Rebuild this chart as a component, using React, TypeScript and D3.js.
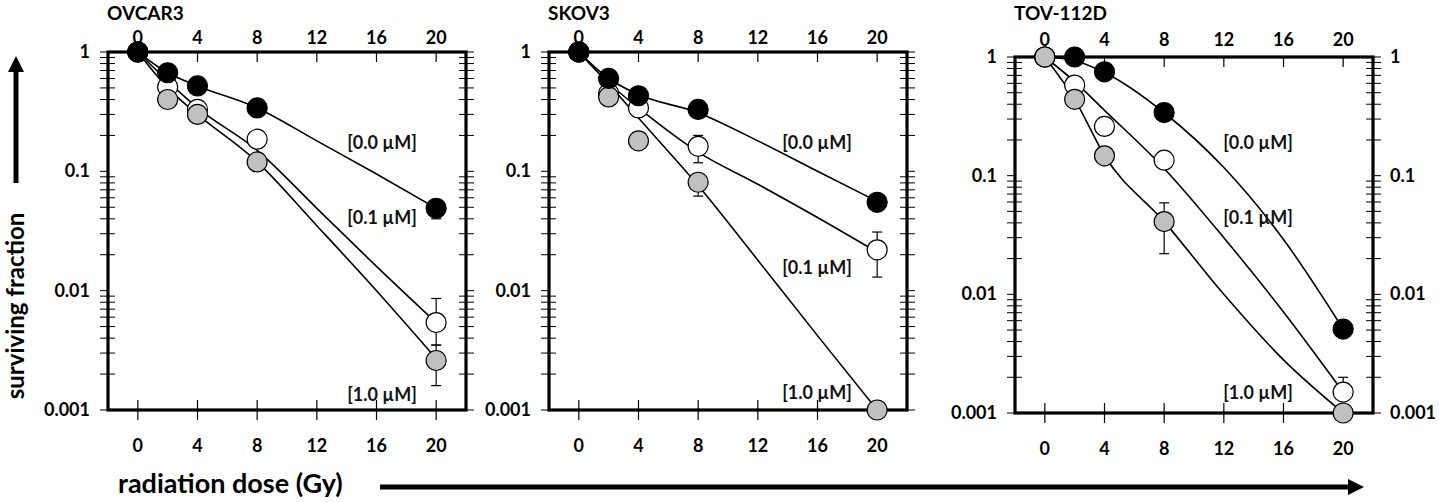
import * as d3 from 'd3';

const doses = [0, 2, 4, 8, 20];
const fitDoses = [0, 2, 4, 8, 12, 16, 20];
const cellLines = ['OVCAR3', 'SKOV3', 'TOV-112D'];
const concLabels = ['[0.0 µM]', '[0.1 µM]', '[1.0 µM]'];
const xTickValues = [0, 4, 8, 12, 16, 20];
const yTickValues = [1, 0.1, 0.01, 0.001];
const yTickLabels = ['1', '0.1', '0.01', '0.001'];

// surviving fraction per concentration (0.0, 0.1, 1.0 µM) at each dose
const ovcar3Points = [
  [1, 0.67, 0.52, 0.34, 0.049],
  [1, 0.51, 0.33, 0.186, 0.0054],
  [1, 0.4, 0.3, 0.12, 0.0026],
];
const skov3Points = [
  [1, 0.6, 0.43, 0.33, 0.055],
  [1, 0.45, 0.34, 0.162, 0.022],
  [1, 0.42, 0.18, 0.081, 0.001],
];
const tovPoints = [
  [1, 1.0, 0.75, 0.34, 0.0051],
  [1, 0.58, 0.26, 0.135, 0.0015],
  [1, 0.44, 0.147, 0.041, 0.001],
];

// fitted curves, read at fitDoses
const ovcar3Fit = [
  [1, 0.67, 0.52, 0.34, 0.18, 0.095, 0.049],
  [1, 0.57, 0.34, 0.15, 0.049, 0.016, 0.0054],
  [1, 0.5, 0.3, 0.12, 0.035, 0.01, 0.0027],
];
const skov3Fit = [
  [1, 0.6, 0.44, 0.31, 0.18, 0.1, 0.056],
  [1, 0.55, 0.34, 0.145, 0.078, 0.041, 0.021],
  [1, 0.54, 0.28, 0.076, 0.018, 0.0042, 0.001],
];
const tovFit = [
  [1, 0.93, 0.74, 0.339, 0.117, 0.029, 0.0051],
  [1, 0.62, 0.355, 0.115, 0.03, 0.0071, 0.0015],
  [1, 0.44, 0.148, 0.041, 0.01, 0.0028, 0.001],
];

// [panel, series, dose index, low, high]
const errorBars: [number, number, number, number, number][] = [
  [0, 0, 4, 0.04, 0.055],
  [0, 1, 4, 0.0035, 0.0086],
  [0, 2, 4, 0.0016, 0.0035],
  [1, 1, 3, 0.118, 0.2],
  [1, 2, 3, 0.062, 0.095],
  [1, 1, 4, 0.013, 0.031],
  [2, 2, 3, 0.022, 0.059],
  [2, 0, 4, 0.0044, 0.0056],
  [2, 1, 4, 0.0013, 0.002],
];

const allPoints = [ovcar3Points, skov3Points, tovPoints];
const allFits = [ovcar3Fit, skov3Fit, tovFit];

const fills = ['#000000', '#ffffff', '#c0c0c0'];
const FONT = 'Lato, "Open Sans", sans-serif';

const layout = [
  { left: 108, top: 52, bottom: 410, topLabelY: 44, order: [1, 2, 0], labels: [[382, 143], [382, 218], [382, 395]], rightLabels: false },
  { left: 549, top: 52, bottom: 410, topLabelY: 44, order: [1, 2, 0], labels: [[817, 143], [817, 268], [817, 393]], rightLabels: false },
  { left: 1015, top: 57, bottom: 413, topLabelY: 46, order: [1, 0, 2], labels: [[1258, 143], [1258, 218], [1258, 393]], rightLabels: true },
];
const panelWidth = 358;

function Panel({ idx }: { idx: number }) {
  const L = layout[idx];
  const right = L.left + panelWidth;
  const x = d3.scaleLinear().domain([-2, 22]).range([L.left, right]);
  const y = d3.scaleLog().domain([0.001, 1]).range([L.bottom, L.top]);
  const minor = y.ticks().filter((v) => !yTickValues.some((m) => Math.abs(m - v) < 1e-9));
  const line = d3
    .line<number>()
    .x((_, i) => x(fitDoses[i]))
    .y((v) => y(v))
    .curve(d3.curveMonotoneX);
  const pts = allPoints[idx];
  const fits = allFits[idx];

  return (
    <g>
      <text x={L.left - 1} y={20} fontFamily={FONT} fontWeight="bold" fontSize={19}>
        {cellLines[idx]}
      </text>
      {/* fitted curves */}
      {fits.map((f, s) => (
        <path key={s} d={line(f) || ''} fill="none" stroke="#000" strokeWidth={1.6} />
      ))}
      {/* minor y ticks, crossing both sides */}
      {minor.map((v, i) => (
        <g key={i} stroke="#000" strokeWidth={1}>
          <line x1={L.left - 8} x2={L.left + 7} y1={y(v)} y2={y(v)} />
          <line x1={right - 7} x2={right + 8} y1={y(v)} y2={y(v)} />
        </g>
      ))}
      {yTickValues.map((v, i) => (
        <g key={i}>
          <line x1={L.left - 8} x2={L.left} y1={y(v)} y2={y(v)} stroke="#000" strokeWidth={1} />
          <line x1={right} x2={right + 8} y1={y(v)} y2={y(v)} stroke="#000" strokeWidth={1} />
          <text
            x={L.left - 18}
            y={y(v) + 6}
            textAnchor="end"
            fontFamily={FONT}
            fontWeight="bold"
            fontSize={18}
          >
            {yTickLabels[i]}
          </text>
          {L.rightLabels && (
            <text x={right + 17} y={y(v) + 6} fontFamily={FONT} fontWeight="bold" fontSize={18}>
              {yTickLabels[i]}
            </text>
          )}
        </g>
      ))}
      {xTickValues.map((v, i) => (
        <g key={i}>
          <line x1={x(v)} x2={x(v)} y1={L.top} y2={L.top + 10} stroke="#000" strokeWidth={1.2} />
          <line x1={x(v)} x2={x(v)} y1={L.bottom - 10} y2={L.bottom + 10} stroke="#000" strokeWidth={1.2} />
          <text x={x(v)} y={L.topLabelY} textAnchor="middle" fontFamily={FONT} fontWeight="bold" fontSize={18}>
            {v}
          </text>
          <text x={x(v)} y={L.bottom + 42} textAnchor="middle" fontFamily={FONT} fontWeight="bold" fontSize={18}>
            {v}
          </text>
        </g>
      ))}
      <rect
        x={L.left}
        y={L.top}
        width={panelWidth}
        height={L.bottom - L.top}
        fill="none"
        stroke="#000"
        strokeWidth={3.2}
      />
      {concLabels.map((t, s) => (
        <text
          key={s}
          x={L.labels[s][0]}
          y={L.labels[s][1] + 6}
          textAnchor="middle"
          fontFamily={FONT}
          fontWeight="bold"
          fontSize={18}
          fill="#111"
        >
          {t}
        </text>
      ))}
      {/* error bars */}
      {errorBars
        .filter((e) => e[0] === idx)
        .map((e, i) => {
          const cx = x(doses[e[2]]);
          return (
            <g key={i} stroke="#000" strokeWidth={1.2}>
              <line x1={cx} x2={cx} y1={y(e[3])} y2={y(e[4])} />
              <line x1={cx - 5} x2={cx + 5} y1={y(e[3])} y2={y(e[3])} />
              <line x1={cx - 5} x2={cx + 5} y1={y(e[4])} y2={y(e[4])} />
            </g>
          );
        })}
      {L.order.map((s) =>
        pts[s].map((v, i) => (
          <circle
            key={`${s}-${i}`}
            cx={x(doses[i])}
            cy={y(v)}
            r={10}
            fill={fills[s]}
            stroke="#000"
            strokeWidth={1.2}
          />
        ))
      )}
    </g>
  );
}

export default function App() {
  return (
    <svg
      width={1439}
      height={502}
      viewBox="0 0 1439 502"
      style={{ position: 'absolute', left: 0, top: 0, background: '#fff' }}
    >
      <rect width={1439} height={502} fill="#fff" />
      {[0, 1, 2].map((i) => (
        <Panel key={i} idx={i} />
      ))}
      {/* y axis title with upward arrow */}
      <text
        transform="translate(24,306) rotate(-90)"
        textAnchor="middle"
        fontFamily={FONT}
        fontWeight="bold"
        fontSize={24}
      >
        surviving fraction
      </text>
      <line x1={16} x2={16} y1={183} y2={70} stroke="#000" strokeWidth={5} />
      <path d="M16,56 L8,72 L24,72 Z" fill="#000" />
      {/* x axis title with right arrow */}
      <text x={118} y={493} fontFamily={FONT} fontWeight="bold" fontSize={27}>
        radiation dose (Gy)
      </text>
      <line x1={380} x2={1350} y1={487} y2={487} stroke="#000" strokeWidth={5} />
      <path d="M1364,487 L1348,479 L1348,495 Z" fill="#000" />
    </svg>
  );
}
